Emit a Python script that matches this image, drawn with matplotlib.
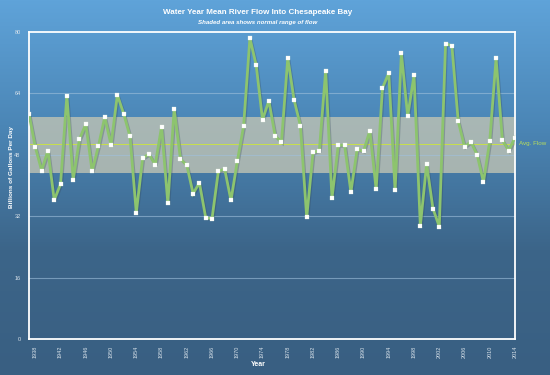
import numpy as np
import matplotlib
matplotlib.use("Agg")
import matplotlib.pyplot as plt
import matplotlib.patheffects as pe
from matplotlib.colors import LinearSegmentedColormap

years = list(range(1937, 2015))
flow = [58.6, 50.0, 43.9, 49.1, 36.2, 40.4, 63.4, 41.5, 52.1, 56.0,
        43.7, 50.3, 57.8, 50.6, 63.6, 58.7, 52.8, 32.9, 47.1, 48.2,
        45.4, 55.3, 35.4, 59.9, 46.9, 45.3, 37.9, 40.7, 31.6, 31.4,
        43.7, 44.3, 36.1, 46.3, 55.5, 78.4, 71.3, 57.1, 62.1, 52.9,
        51.3, 73.2, 62.3, 55.6, 31.7, 48.6, 49.1, 69.9, 36.7, 50.5,
        50.5, 38.3, 49.5, 48.9, 54.3, 39.0, 65.4, 69.3, 38.7, 74.4,
        58.1, 68.7, 29.5, 45.6, 34.0, 29.3, 77.0, 76.4, 56.8, 50.1,
        51.4, 48.0, 40.9, 51.6, 73.1, 51.8, 49.1, 52.5]
normal_low = 43.2
normal_high = 57.8
avg_flow = 50.9
y_ticks = [0, 16, 32, 48, 64, 80]
x_ticks = list(range(1938, 2015, 4))

plt.rcParams['font.family'] = ['Liberation Sans', 'DejaVu Sans']

fig = plt.figure(figsize=(5.5, 3.75), dpi=100)

# background gradient
bg = fig.add_axes([0, 0, 1, 1], zorder=0)
grad = np.linspace(0, 1, 256).reshape(-1, 1)
cmap = LinearSegmentedColormap.from_list('bg', ['#5fa3d9', '#4b86b6', '#3c6589', '#395f82'])
bg.imshow(grad, aspect='auto', cmap=cmap, extent=[0, 1, 0, 1], origin='upper')
bg.axis('off')

ax = fig.add_axes([29/550, 36/375, 486/550, 307/375], zorder=1)
ax.patch.set_alpha(0)

ax.axhspan(normal_low, normal_high, color='#c3c5b4', alpha=0.78, zorder=1, lw=0)
for t in y_ticks[1:-1]:
    ax.axhline(t, color='#9fc0dc', lw=0.8, alpha=0.6, zorder=1.5)
ax.axhline(avg_flow, color='#c8e04a', lw=0.7, zorder=2)

ax.plot(years, flow, color='#8dc46e', lw=2.0, zorder=3,
        solid_joinstyle='miter',
        path_effects=[pe.SimpleLineShadow(offset=(0.8, -0.8), shadow_color='#33475a', alpha=0.3),
                      pe.Normal()])
ax.plot(years, flow, ls='none', marker='s', ms=2.5, mfc='white', mec='#e8f2e0',
        mew=0.2, zorder=4)

ax.set_xlim(1937, 2014)
ax.set_ylim(0, 80)
ax.set_yticks(y_ticks)
ax.set_yticklabels([str(v) for v in y_ticks])
ax.set_xticks(x_ticks)
ax.set_xticklabels([str(v) for v in x_ticks], rotation=90)
ax.tick_params(axis='both', length=0, colors='#d8e2ea', labelsize=4)
ax.tick_params(axis='x', pad=5)
ax.tick_params(axis='y', pad=6)
for s in ax.spines.values():
    s.set_color('white')
    s.set_linewidth(1.3)

ax.text(1.008, (avg_flow - 0) / 80, 'Avg. Flow', transform=ax.transAxes,
        color='#b8dc5c', fontsize=4.5, va='center', ha='left')

fig.text(258/550, 1 - 12/375, 'Water Year Mean River Flow Into Chesapeake Bay',
         ha='center', va='center', color='white', fontsize=5.8, fontweight='bold')
fig.text(258/550, 1 - 22.5/375, 'Shaded area shows normal range of flow',
         ha='center', va='center', color='white', fontsize=4.4, fontweight='bold',
         style='italic')
fig.text(12/550, 1 - 167/375, 'Billions of Gallons Per Day', rotation=90,
         ha='center', va='center', color='white', fontsize=4.6, fontweight='bold')
fig.text(258/550, 1 - 364/375, 'Year', ha='center', va='center', color='white',
         fontsize=5, fontweight='bold')

fig.savefig('out.png', dpi=100)
